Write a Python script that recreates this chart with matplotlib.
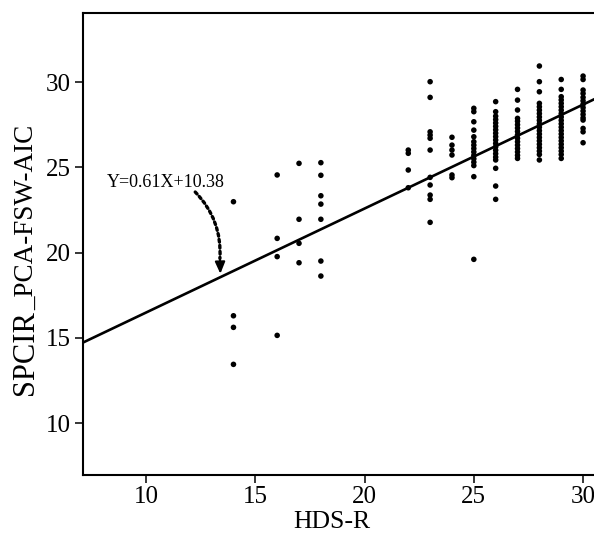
import matplotlib
matplotlib.use("Agg")
import matplotlib.pyplot as plt
import numpy as np

# ---- data ----
hds_14 = [22.98, 16.29, 15.61, 13.44]
hds_16 = [24.55, 20.83, 19.76, 15.14]
hds_17 = [25.23, 21.95, 20.54, 19.40]
hds_18 = [25.27, 24.53, 23.33, 22.84, 21.95, 19.50, 18.62]
hds_22 = [26.01, 25.82, 24.84, 23.80]
hds_23 = [30.02, 29.10, 27.08, 26.89, 26.70, 26.01, 24.41, 23.96, 23.37, 23.12, 21.77]
hds_24 = [26.76, 26.30, 26.01, 25.72, 24.55, 24.39]
hds_25 = [28.46, 28.26, 27.67, 27.18, 26.79, 26.5, 26.3, 26.1, 25.9, 25.7, 25.5,
          25.3, 25.1, 24.45, 19.60]
hds_26 = [28.85, 28.26, 28.0, 27.8, 27.6, 27.4, 27.2, 27.0, 26.8, 26.6, 26.4, 26.2,
          26.0, 25.8, 25.6, 25.43, 24.94, 23.90, 23.12]
hds_27 = [29.57, 28.94, 28.36, 27.87, 27.7, 27.5, 27.3, 27.1, 26.9, 26.7, 26.5,
          26.3, 26.1, 25.9, 25.7, 25.52]
hds_28 = [30.94, 30.02, 29.43, 28.75, 28.55, 28.35, 28.15, 27.95, 27.75, 27.55,
          27.35, 27.15, 26.95, 26.75, 26.55, 26.35, 26.15, 25.95, 25.75, 25.43]
hds_29 = [30.15, 29.57, 29.14, 28.95, 28.75, 28.55, 28.35, 28.15, 27.95, 27.75,
          27.55, 27.35, 27.15, 26.95, 26.75, 26.55, 26.35, 26.15, 25.95, 25.75, 25.52]
hds_30 = [30.35, 30.15, 29.53, 29.33, 29.1, 28.9, 28.7, 28.5, 28.3, 28.1, 27.9,
          27.77, 27.28, 27.08, 26.44]

columns = {14: hds_14, 16: hds_16, 17: hds_17, 18: hds_18, 22: hds_22, 23: hds_23,
           24: hds_24, 25: hds_25, 26: hds_26, 27: hds_27, 28: hds_28, 29: hds_29,
           30: hds_30}

fit_slope = 0.61
fit_intercept = 10.38
fit_label = "Y=0.61X+10.38"
x_ticks = [10, 15, 20, 25, 30]
y_ticks = [10, 15, 20, 25, 30]

# ---- figure ----
W, H = 594, 533
fig = plt.figure(figsize=(W / 100, H / 100), dpi=100)
fig.patch.set_facecolor("white")
serif = "Liberation Serif"

left = 82.7 / W
bottom = 1 - 475 / H
top = 1 - 13 / H
ax = fig.add_axes([left, bottom, 1 - left, top - bottom])

xs, ys = [], []
for hx, vals in columns.items():
    xs.extend([hx] * len(vals))
    ys.extend(vals)
ax.scatter(xs, ys, s=16, color="black", edgecolors="none", zorder=3)

xlim = (7.1, 30.5)
ylim = (6.95, 34.05)
lx = np.array([xlim[0] - 1, xlim[1] + 1])
ax.plot(lx, fit_slope * lx + fit_intercept, color="black", lw=1.9, zorder=2)

ax.set_xlim(*xlim)
ax.set_ylim(*ylim)
ax.set_xticks(x_ticks)
ax.set_yticks(y_ticks)
for lab in ax.get_xticklabels() + ax.get_yticklabels():
    lab.set_fontfamily(serif)
    lab.set_fontsize(18)
ax.tick_params(axis="x", direction="out", length=6, width=1.1, pad=2, colors="black")
ax.tick_params(axis="y", direction="out", length=6, width=1.1, pad=2.5, colors="black")
ax.spines["right"].set_visible(False)
for s in ["left", "bottom", "top"]:
    ax.spines[s].set_linewidth(1.5)
    ax.spines[s].set_color("black")

# annotation: label, dotted curved shaft, solid head
tip_x = 13.4
tip_y = fit_slope * tip_x + fit_intercept + 0.2
ax.text(8.22, 23.86, fit_label, fontfamily=serif, fontsize=13, ha="left",
        va="baseline", color="black")
ax.annotate("", xy=(tip_x - 0.02, tip_y + 0.9), xytext=(12.25, 23.55),
            arrowprops=dict(arrowstyle="-", linestyle=(0, (0.8, 1.0)), lw=2.4,
                            color="black", connectionstyle="arc3,rad=-0.22",
                            shrinkA=0, shrinkB=0))
ax.annotate("", xy=(tip_x, tip_y), xytext=(tip_x - 0.02, tip_y + 1.0),
            arrowprops=dict(arrowstyle="-|>,head_length=0.7,head_width=0.3",
                            lw=1.5, color="black", shrinkA=0, shrinkB=0))

# x label
fig.text(332 / W, 1 - 528 / H, "HDS-R", fontfamily=serif, fontsize=18.5,
         ha="center", va="baseline")

# y label: SPCIR + smaller suffix
fig.canvas.draw()
r = fig.canvas.get_renderer()
x0 = 33 / W
t1 = fig.text(x0, 1 - 395 / H, "SPCIR", rotation=90, rotation_mode="anchor",
              ha="left", va="baseline", fontfamily=serif, fontsize=22)
bb = t1.get_window_extent(r)
fig.text(x0, bb.y1 / H, "_PCA-FSW-AIC", rotation=90, rotation_mode="anchor",
         ha="left", va="baseline", fontfamily=serif, fontsize=19.5)

fig.savefig("out.png", dpi=100, facecolor="white")
